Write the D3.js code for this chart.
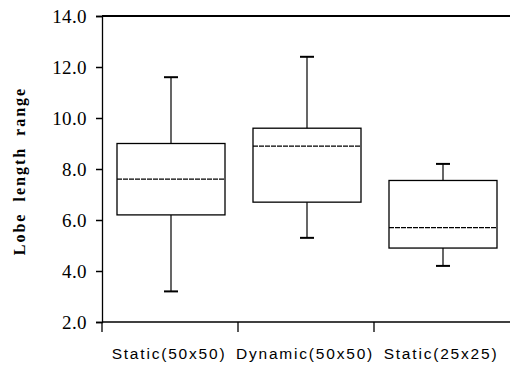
<!DOCTYPE html>
<html>
<head>
<meta charset="utf-8">
<script src="https://cdn.jsdelivr.net/npm/d3@7"></script>
<style>
  body { margin: 0; background: #fff; }
</style>
</head>
<body>
<div id="chart"></div>
<script>
// box statistics
const categories = ["Static(50x50)", "Dynamic(50x50)", "Static(25x25)"];
const whiskerLow = [3.2, 5.3, 4.2];
const q1 = [6.2, 6.7, 4.9];
const median = [7.6, 8.9, 5.7];
const q3 = [9.0, 9.6, 7.55];
const whiskerHigh = [11.6, 12.4, 8.2];
const yTicks = [2, 4, 6, 8, 10, 12, 14];

// set the dimensions and margins of the graph
const margin = { top: 16, right: 0, bottom: 48, left: 102 },
    width = 510 - margin.left - margin.right,
    height = 370 - margin.top - margin.bottom;

const svg = d3.select("#chart").append("svg")
    .attr("width", 510)
    .attr("height", 370)
    .append("g")
    .attr("transform", `translate(${margin.left},${margin.top})`);

const xScale = d3.scaleBand(categories, [0, 408]).paddingInner(0).paddingOuter(0);
const yScale = d3.scaleLinear([2, 14], [height, 0]);

// Y axis
svg.append("g")
    .call(d3.axisLeft(yScale).tickValues(yTicks).tickFormat(d3.format(".1f")).tickSize(6).tickPadding(9))
    .call(g => g.select(".domain").attr("stroke-width", 1.3))
    .call(g => g.selectAll(".tick line").attr("stroke-width", 1.5))
    .call(g => g.selectAll("text")
        .attr("font-family", "Liberation Serif")
        .attr("font-size", 19)
        .attr("letter-spacing", 0.4)
        .attr("fill", "#000"));

// X axis: ticks on band boundaries
svg.append("line")
    .attr("x1", 0).attr("x2", width)
    .attr("y1", height).attr("y2", height)
    .attr("stroke", "#000").attr("stroke-width", 1.3);
svg.selectAll(".xtick")
    .data(categories)
    .join("line")
    .attr("x1", d => xScale(d)).attr("x2", d => xScale(d))
    .attr("y1", height).attr("y2", height + 10)
    .attr("stroke", "#000").attr("stroke-width", 1.3);
svg.selectAll(".xlabel")
    .data(categories)
    .join("text")
    .attr("x", d => xScale(d) + xScale.bandwidth() / 2 - 1)
    .attr("y", height + 37)
    .attr("text-anchor", "middle")
    .attr("font-family", "Liberation Sans")
    .attr("font-size", 15.5)
    .attr("letter-spacing", 1.8)
    .text(d => d);

// top frame line
svg.append("line")
    .attr("x1", 0).attr("x2", width)
    .attr("y1", yScale(14)).attr("y2", yScale(14))
    .attr("stroke", "#000").attr("stroke-width", 2);

// Y axis title
svg.append("text")
    .attr("transform", `translate(${25 - margin.left},${171 - margin.top}) rotate(-90)`)
    .attr("text-anchor", "middle")
    .attr("font-family", "Liberation Serif")
    .attr("font-weight", "bold")
    .attr("font-size", 16)
    .attr("letter-spacing", 2)
    .attr("word-spacing", 5)
    .text("Lobe length range");

// boxes
const boxW = 108, capW = 14;
categories.forEach((c, i) => {
    const cx = xScale(c) + xScale.bandwidth() / 2 + 1;
    const g = svg.append("g");
    // whiskers
    g.append("line")
        .attr("x1", cx).attr("x2", cx)
        .attr("y1", yScale(whiskerHigh[i])).attr("y2", yScale(q3[i]))
        .attr("stroke", "#000").attr("stroke-width", 1.2);
    g.append("line")
        .attr("x1", cx).attr("x2", cx)
        .attr("y1", yScale(q1[i])).attr("y2", yScale(whiskerLow[i]))
        .attr("stroke", "#000").attr("stroke-width", 1.2);
    [whiskerHigh[i], whiskerLow[i]].forEach(v => {
        g.append("line")
            .attr("x1", cx - capW / 2).attr("x2", cx + capW / 2)
            .attr("y1", yScale(v)).attr("y2", yScale(v))
            .attr("stroke", "#000").attr("stroke-width", 2);
    });
    // box
    g.append("rect")
        .attr("x", cx - boxW / 2)
        .attr("y", yScale(q3[i]))
        .attr("width", boxW)
        .attr("height", yScale(q1[i]) - yScale(q3[i]))
        .attr("fill", "none")
        .attr("stroke", "#000")
        .attr("stroke-width", 1.3);
    // median
    g.append("line")
        .attr("x1", cx - boxW / 2).attr("x2", cx + boxW / 2)
        .attr("y1", yScale(median[i])).attr("y2", yScale(median[i]))
        .attr("stroke", "#000").attr("stroke-width", 1.3)
        .attr("stroke-dasharray", "5,1");
});
</script>
</body>
</html>
